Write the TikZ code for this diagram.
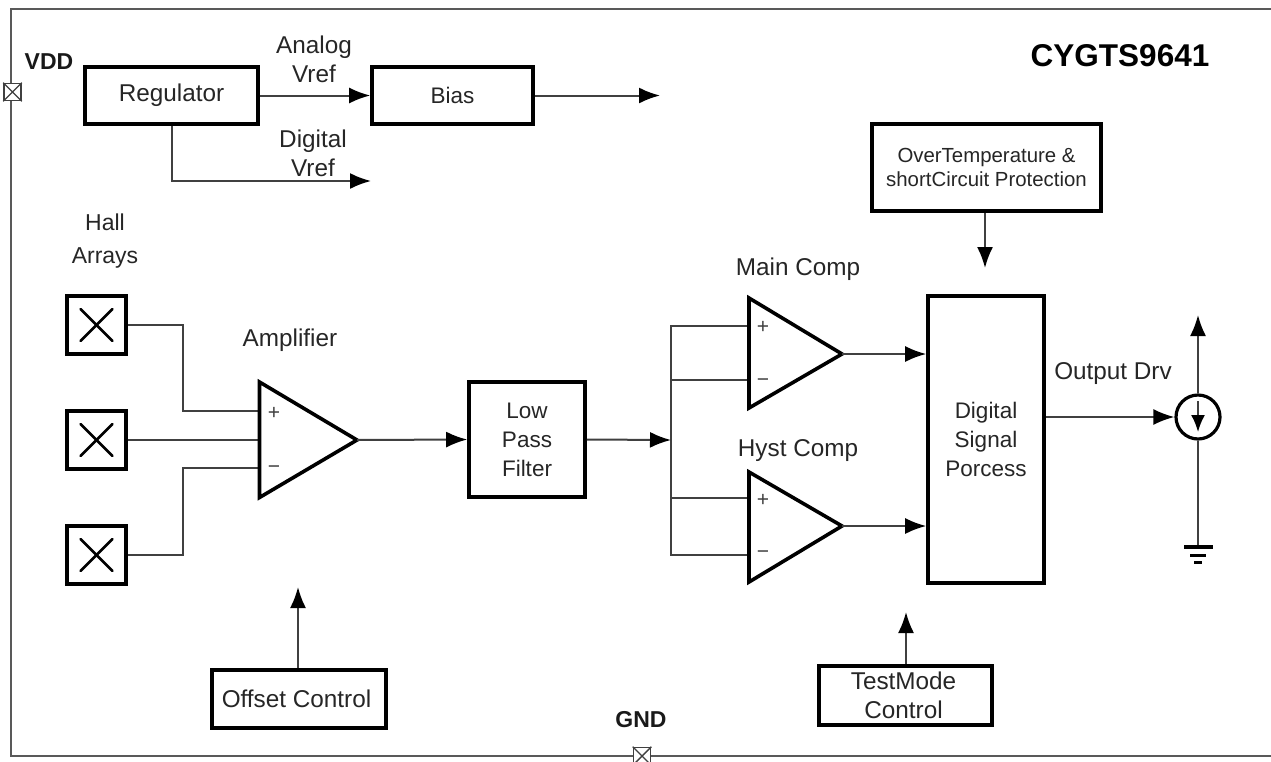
\documentclass[tikz,border=0pt]{standalone}
\usepackage{fontspec}
\setmainfont{Liberation Sans}
\usetikzlibrary{arrows.meta}
\tikzset{
 blk/.style={draw=black,line width=3.6pt,fill=white,align=center,inner sep=0pt,text=black!85},
 thin wire/.style={draw=black!75,line width=1.6pt},
 wire/.style={draw=black!75,line width=2pt},
 arr/.style={wire,-{Latex[length=21pt,width=16pt,black]}},
 lab/.style={align=center,text=black!85,inner sep=0pt,font=\fontsize{24.3}{29}\selectfont},
 sym/.style={text=black!75,inner sep=0pt,font=\fontsize{21}{21}\selectfont},
 bold/.style={font=\fontsize{23}{26}\selectfont\bfseries,text=black!90,inner sep=0pt},
 tri/.style={draw=black,line width=3.6pt,fill=white,line join=miter},
 pad/.style={draw=black!75,line width=1.6pt,fill=white,minimum size=17pt,inner sep=0pt},
 hall/.style={blk,minimum width=59pt,minimum height=58pt},
 f24/.style={font=\fontsize{24.3}{29}\selectfont},
 f22/.style={font=\fontsize{22.5}{29}\selectfont},
}
\newcommand{\padcross}[1]{\draw[black!75,line width=1.4pt] (#1.north west) -- (#1.south east) (#1.north east) -- (#1.south west);}
\begin{document}
\begin{tikzpicture}[x=1pt,y=-1pt]
\useasboundingbox (0,0) rectangle (1271,761);
\clip (0,0) rectangle (1271,761);
% frame, open on the right, running off the page
\coordinate (fa) at (1272,9); \coordinate (fb) at (11,9); \coordinate (fc) at (11,756); \coordinate (fd) at (1272,756);
\draw[draw=black!65,line width=2.2pt] (fa) -- (fb) -- (fc) -- (fd);
\node[pad] (vddpad) at (12.5,92) {}; \padcross{vddpad}
\node[pad] (gndpad) at (642,756) {}; \padcross{gndpad}
\node[bold] (vdd) at (49,62) {VDD};
\node[bold] (gnd) at (641,720) {GND};
\node[font=\fontsize{31.5}{34}\selectfont\bfseries,inner sep=0pt] (title) at (1120,56) {CYGTS9641};
% blocks
\node[blk,f24,minimum width=173pt,minimum height=57pt] (reg) at (171.5,95.5) {\raisebox{-1.5pt}{Regulator}};
\node[blk,f22,minimum width=161pt,minimum height=57pt] (bias) at (452.5,95.5) {Bias};
\node[blk,minimum width=229pt,minimum height=87pt,font=\fontsize{20.4}{24}\selectfont] (otp) at (986.5,167.5) {OverTemperature \&\\shortCircuit Protection};
\node[blk,f22,minimum width=116pt,minimum height=287pt] (dsp) at (986,439.5) {Digital\\Signal\\Porcess};
\node[blk,f22,minimum width=116pt,minimum height=115pt] (lpf) at (527,439.5) {Low\\Pass\\Filter};
\node[blk,f24,minimum width=174pt,minimum height=58pt] (off) at (299,699) {\raisebox{-2pt}{Offset Control}\hspace*{5pt}};
\node[blk,f24,minimum width=173pt,minimum height=59pt] (test) at (905.5,695.5) {TestMode\hspace*{4pt}\\Control\hspace*{4pt}};
\node[hall] (h1) at (96.5,325) {};
\node[hall] (h2) at (96.5,440) {};
\node[hall] (h3) at (96.5,555) {};
\foreach \h in {h1,h2,h3}{
 \draw[black,line width=2.6pt,line cap=round] ([shift={(-16,-16)}]\h.center) -- ([shift={(16,16)}]\h.center);
 \draw[black,line width=2.6pt,line cap=round] ([shift={(-16,16)}]\h.center) -- ([shift={(16,-16)}]\h.center);
}
% amplifier triangles
\coordinate (ampT) at (259.5,382); \coordinate (ampB) at (259.5,497.5); \coordinate (ampO) at (357,440);
\coordinate (mainT) at (749,298); \coordinate (mainB) at (749,408); \coordinate (mainO) at (842,354);
\coordinate (hystT) at (749,472); \coordinate (hystB) at (749,582); \coordinate (hystO) at (842,526);
\coordinate (bus) at (671,440);
% wires
\draw[thin wire] (h1.east) -- (183,325) -- (183,411) -- (ampT |- 0,411);
\draw[wire] (h2.east) -- (ampT |- 0,440);
\draw[thin wire] (h3.east) -- (183,555) -- (183,468) -- (ampT |- 0,468);
\draw[wire] (mainT |- 0,326) -- (bus |- 0,326) -- (bus |- 0,555) -- (hystT |- 0,555);
\draw[wire] (bus |- 0,380) -- (mainT |- 0,380);
\draw[wire] (bus |- 0,498) -- (hystT |- 0,498);
\draw[tri] (ampT) -- (ampO) -- (ampB) -- cycle;
\draw[tri] (mainT) -- (mainO) -- (mainB) -- cycle;
\draw[tri] (hystT) -- (hystO) -- (hystB) -- cycle;
\node[sym] (ap) at (274,413) {+}; \node[sym] (am) at (274,470) {−};
\node[sym] (mp) at (763,327) {+}; \node[sym] (mm) at (763,383) {−};
\node[sym] (hp) at (763,500) {+}; \node[sym] (hm) at (763,555) {−};
% arrows
\draw[arr] (reg.east) -- (bias.west);
\coordinate (bo) at (660,95.5); \draw[arr] (bias.east) -- (bo);
\coordinate (dv) at (371,181); \draw[arr] (reg.south) |- (dv);
\draw[arr] (ampO) -- (lpf.west);
\draw[arr] (lpf.east) -- (bus);
\draw[arr] (mainO) -- (dsp.west |- mainO);
\draw[arr] (hystO) -- (dsp.west |- hystO);
\coordinate (otpe) at (985,268); \draw[arr] (otpe |- otp.south) -- (otpe);
\coordinate (offe) at (298,587); \draw[arr] (offe |- off.north) -- (offe);
\coordinate (teste) at (906,612); \draw[arr] (teste |- test.north) -- (teste);
% output
\node[draw=black,line width=3.2pt,circle,minimum size=44pt,inner sep=0pt,fill=white] (drv) at (1198,417) {};
\draw[arr] (dsp.east |- drv) -- (drv.west);
\coordinate (up) at (1198,315); \draw[arr] (drv.north) -- (up);
\coordinate (ins) at (1198,401); \coordinate (ine) at (1198,432);
\draw[wire,-{Latex[length=17pt,width=14pt,black]}] (ins) -- (ine);
\coordinate (g1) at (1198,547); \draw[wire] (drv.south) -- (g1);
\draw[black,line width=3.4pt] (1184,547) -- (1213,547);
\draw[black,line width=3pt] (1190,555) -- (1206,555);
\draw[black,line width=3pt] (1194,562) -- (1202,562);
% labels
\node[lab] (l1) at (314,59) {Analog\\Vref};
\node[lab] (l2) at (313,153) {Digital\\Vref};
\node[lab,font=\fontsize{23}{33}\selectfont] (l3) at (105,241) {Hall\\Arrays};
\node[lab] (l4) at (290,340) {Amplifier};
\node[lab] (l5) at (798,269) {Main Comp};
\node[lab] (l6) at (798,451) {Hyst Comp};
\node[lab] (l7) at (1113,374) {Output Drv};
\end{tikzpicture}
\end{document}
